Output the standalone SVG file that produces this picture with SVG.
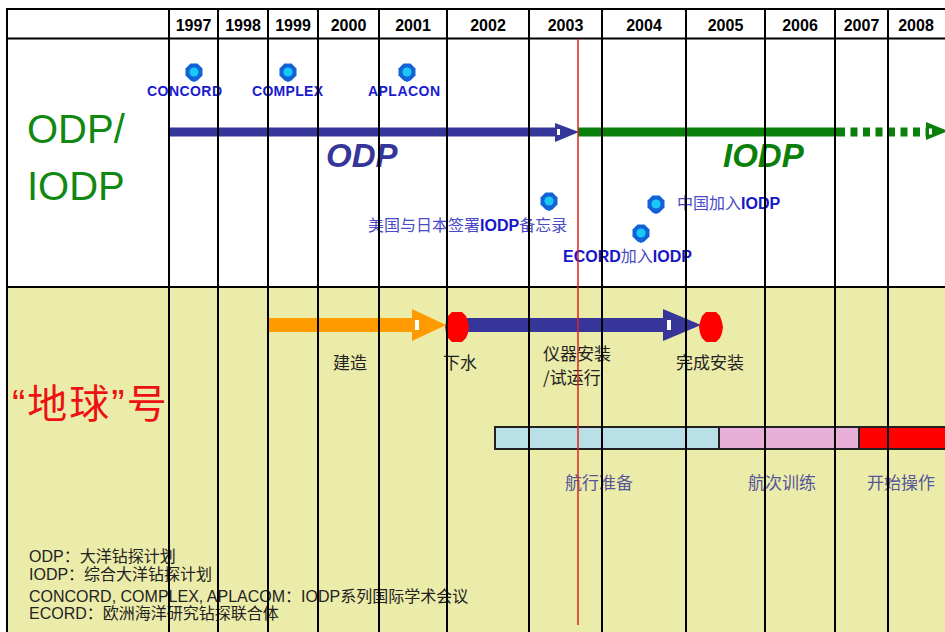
<svg xmlns="http://www.w3.org/2000/svg" xmlns:xlink="http://www.w3.org/1999/xlink" width="945" height="632" viewBox="0 0 945 632">
<defs>
<style>
.grid{stroke:#000;stroke-width:2;fill:none}
.yr{font-family:"Liberation Sans",Arial,sans-serif;font-weight:bold;font-size:16px;fill:#000;text-anchor:middle}
.conf{font-family:"Liberation Sans",Arial,sans-serif;font-weight:bold;font-size:14px;fill:#1a1ad0}
.ev{font-family:"Liberation Sans","Noto Sans CJK SC",sans-serif;font-size:16px;fill:#4a4ac8}
.evb{font-weight:bold;fill:#1616c8}
.lbl{font-family:"Noto Sans CJK SC",sans-serif;font-size:17px;fill:#222}
.bl{font-family:"Noto Sans CJK SC",sans-serif;font-size:17px;fill:#55559a}
.leg{font-family:"Liberation Sans","Noto Sans CJK SC",sans-serif;font-size:16px;fill:#222}
</style>
<g id="mk">
<path d="M-3.5,-8.5 L3.5,-8.5 L8.5,-3.5 L8.5,3.5 L3.5,8.5 L0,10 L-3.5,8.5 L-8.5,3.5 L-8.5,-3.5 Z" fill="#1262d8"/>
<circle r="4.6" fill="#19c8f5"/>
</g>
<path id="blob" d="M-5,-15 L5,-15 L9,-11 L11,-5 L12,0 L11,6 L9,11 L5,15 L-5,15 L-9,11 L-11,6 L-12,0 L-11,-5 L-9,-11 Z" fill="#ff0000"/>
</defs>
<rect x="0" y="0" width="945" height="632" fill="#fff"/>
<rect x="7" y="287" width="938" height="345" fill="#ececaa"/>

<g id="connectors">
<g id="odp-arrow">
<rect x="168" y="127.5" width="390" height="9" fill="#35359a"/>
<polygon points="555,123 579,132 555,142" fill="#35359a"/>
<rect x="557" y="129" width="3" height="6" fill="#fff"/>
</g>
<g id="iodp-arrow">
<rect x="578" y="127.5" width="260" height="9" fill="#0a800a"/>
<line x1="838" y1="132" x2="926" y2="132" stroke="#0a800a" stroke-width="9" stroke-dasharray="7 5.5"/>
<polygon points="926,122 948,131 926,140" fill="#0a800a"/>
<rect x="929" y="128.5" width="3" height="6" fill="#fff"/>
</g>
<g id="build-arrow">
<rect x="268" y="318" width="146" height="14" fill="#ff9a00"/>
<polygon points="412,309 446,325 412,341" fill="#ff9a00"/>
<rect x="415" y="320" width="4" height="10" fill="#fff"/>
</g>
<g id="install-arrow">
<rect x="466" y="318" width="200" height="14" fill="#35359a"/>
<polygon points="663,309 701,325 663,341" fill="#35359a"/>
<rect x="667" y="320" width="4" height="10" fill="#fff"/>
</g>
</g>

<g id="phase-bars">
<rect x="495" y="427" width="224" height="22" fill="#b8e0e6" stroke="#222" stroke-width="2"/>
<rect x="719" y="427" width="140" height="22" fill="#e8b0d8" stroke="#222" stroke-width="2"/>
<rect x="859" y="427" width="90" height="22" fill="#ff0000" stroke="#222" stroke-width="2"/>
</g>

<g id="row-labels">
<text x="27" y="143" font-family="Liberation Sans,Arial,sans-serif" font-size="40" fill="#118811">ODP/</text>
<text x="27" y="200" font-family="Liberation Sans,Arial,sans-serif" font-size="40" fill="#118811">IODP</text>
<text x="12" y="418" font-family="Liberation Sans,Noto Sans CJK SC,sans-serif" font-size="40" letter-spacing="2" fill="#ee1111">“地球”号</text>
</g>

<g id="years">
<text class="yr" x="193.5" y="31">1997</text>
<text class="yr" x="243" y="31">1998</text>
<text class="yr" x="293" y="31">1999</text>
<text class="yr" x="348.5" y="31">2000</text>
<text class="yr" x="413" y="31">2001</text>
<text class="yr" x="488" y="31">2002</text>
<text class="yr" x="565.5" y="31">2003</text>
<text class="yr" x="644" y="31">2004</text>
<text class="yr" x="725.5" y="31">2005</text>
<text class="yr" x="800" y="31">2006</text>
<text class="yr" x="861.5" y="31">2007</text>
<text class="yr" x="916" y="31">2008</text>
</g>

<g id="program-labels">
<text x="326" y="167" font-family="Liberation Sans,Arial,sans-serif" font-size="33" font-weight="bold" font-style="italic" fill="#35359a">ODP</text>
<text x="723" y="167" font-family="Liberation Sans,Arial,sans-serif" font-size="33" font-weight="bold" font-style="italic" fill="#0a800a">IODP</text>
</g>

<g id="concord"><use xlink:href="#mk" x="194" y="72"/><text class="conf" x="147" y="96" textLength="75">CONCORD</text></g>
<g id="complex"><use xlink:href="#mk" x="288" y="72"/><text class="conf" x="252" y="96" textLength="71">COMPLEX</text></g>
<g id="aplacon"><use xlink:href="#mk" x="407" y="72"/><text class="conf" x="368" y="96" textLength="72">APLACON</text></g>

<g id="us-japan"><use xlink:href="#mk" x="549" y="201"/><text class="ev" x="368" y="231">美国与日本签署<tspan class="evb">IODP</tspan>备忘录</text></g>
<g id="china"><use xlink:href="#mk" x="656" y="204"/><text class="ev" x="677" y="209">中国加入<tspan class="evb">IODP</tspan></text></g>
<g id="ecord"><use xlink:href="#mk" x="641" y="233"/><text class="ev" x="563" y="262"><tspan class="evb">ECORD</tspan>加入<tspan class="evb">IODP</tspan></text></g>

<g id="launch"><use xlink:href="#blob" x="457" y="327"/><text class="lbl" x="443" y="369">下水</text></g>
<g id="complete"><use xlink:href="#blob" x="711" y="327"/><text class="lbl" x="676" y="369">完成安装</text></g>
<g id="build"><text class="lbl" x="333" y="369">建造</text></g>
<g id="instrument"><text class="lbl" x="543" y="360">仪器安装</text><text class="lbl" x="543" y="384">/试运行</text></g>

<g id="bar-labels">
<text class="bl" x="565" y="489">航行准备</text>
<text class="bl" x="748" y="489">航次训练</text>
<text class="bl" x="867" y="489">开始操作</text>
</g>

<g id="legend">
<text class="leg" x="29" y="562">ODP：大洋钻探计划</text>
<text class="leg" x="29" y="580">IODP：综合大洋钻探计划</text>
<text class="leg" x="29" y="602">CONCORD, COMPLEX, APLACOM：IODP系列国际学术会议</text>
<text class="leg" x="29" y="619">ECORD：欧洲海洋研究钻探联合体</text>
</g>

<g id="grid">
<line class="grid" x1="6" y1="9" x2="945" y2="9"/>
<line class="grid" x1="6" y1="38.5" x2="945" y2="38.5"/>
<line class="grid" x1="6" y1="287" x2="945" y2="287"/>
<line class="grid" x1="7" y1="8" x2="7" y2="632"/>
<line class="grid" x1="169" y1="8" x2="169" y2="632"/>
<line class="grid" x1="218" y1="8" x2="218" y2="632"/>
<line class="grid" x1="268" y1="8" x2="268" y2="632"/>
<line class="grid" x1="318" y1="8" x2="318" y2="632"/>
<line class="grid" x1="379" y1="8" x2="379" y2="632"/>
<line class="grid" x1="447" y1="8" x2="447" y2="632"/>
<line class="grid" x1="529" y1="8" x2="529" y2="632"/>
<line class="grid" x1="602" y1="8" x2="602" y2="632"/>
<line class="grid" x1="686" y1="8" x2="686" y2="632"/>
<line class="grid" x1="765" y1="8" x2="765" y2="632"/>
<line class="grid" x1="835" y1="8" x2="835" y2="632"/>
<line class="grid" x1="888" y1="8" x2="888" y2="632"/>
<line x1="578" y1="39" x2="578" y2="625" stroke="#e02020" stroke-width="1.5"/>
</g>
</svg>
